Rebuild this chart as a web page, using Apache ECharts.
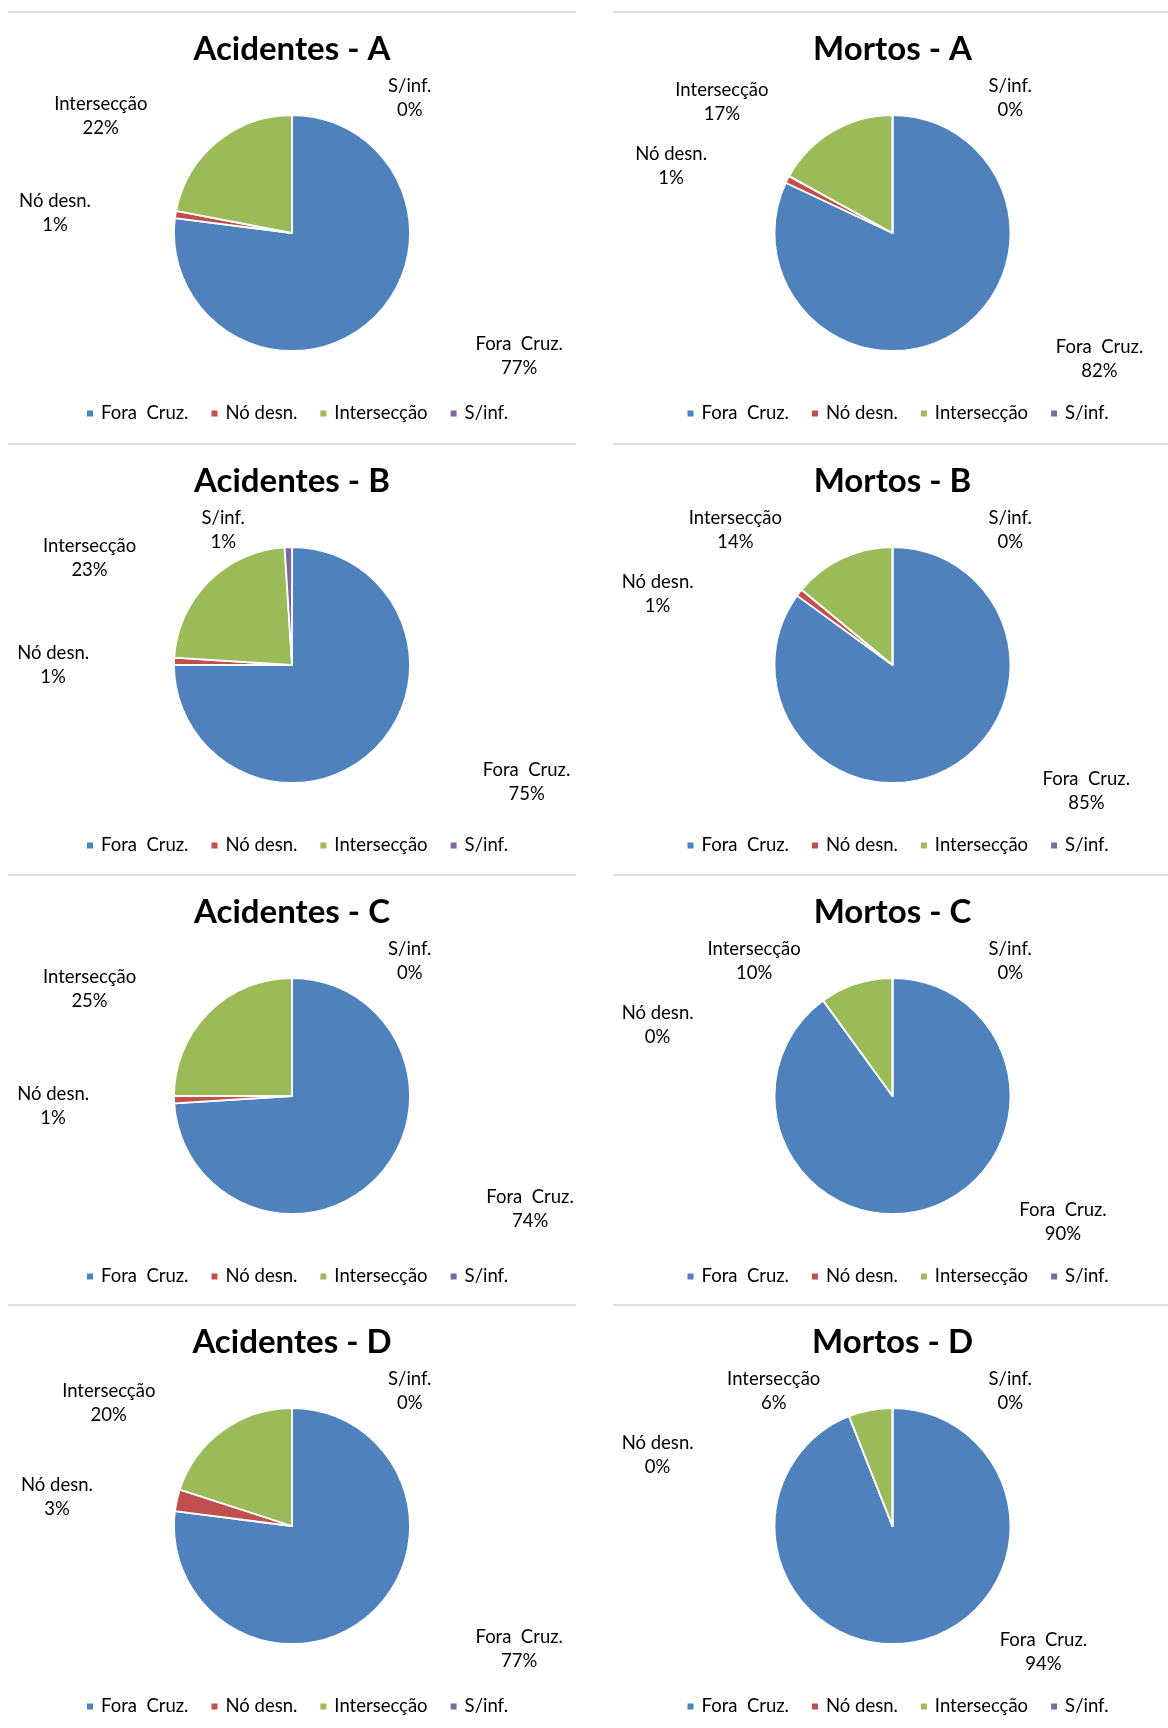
<!DOCTYPE html>
<html><head><meta charset="utf-8">
<script src="https://cdn.jsdelivr.net/npm/echarts@6/dist/echarts.min.js"></script>
<style>
html,body{margin:0;padding:0;background:#fff;width:1168px;height:1728px;overflow:hidden;position:relative}
.panel{position:absolute;height:428px}
.sep{position:absolute;height:2px;background:#dfdfdf}
</style></head><body>
<script>
// ---- data ----
const categories = ['Fora  Cruz.', 'Nó desn.', 'Intersecção', 'S/inf.'];
const chartTitles = ['Acidentes - A', 'Mortos - A', 'Acidentes - B', 'Mortos - B',
                     'Acidentes - C', 'Mortos - C', 'Acidentes - D', 'Mortos - D'];
const acidentesA = [77, 1, 22, 0];
const mortosA    = [82, 1, 17, 0];
const acidentesB = [75, 1, 23, 1];
const mortosB    = [85, 1, 14, 0];
const acidentesC = [74, 1, 25, 0];
const mortosC    = [90, 0, 10, 0];
const acidentesD = [77, 3, 20, 0];
const mortosD    = [94, 0, 6, 0];
const seriesValues = [acidentesA, mortosA, acidentesB, mortosB, acidentesC, mortosC, acidentesD, mortosD];

// ---- style ----
const colors = ['#4F81BD', '#C0504D', '#9BBB59', '#8064A2'];
const FONT = 'Lato';
const LABEL_SIZE = 18.5, LINE_H = 24;
const rowTops = [11, 443, 874, 1304];
const colLeft = [8, 613];
const colWidth = [568, 559];
const pieCY = 222, pieR = 118;

const ctx = document.createElement('canvas').getContext('2d');
ctx.font = LABEL_SIZE + 'px ' + FONT;
const tw = s => ctx.measureText(s).width;

function labelPositions(values, cx, cy) {
  const total = values.reduce((a, b) => a + b, 0);
  const RX = 161, RY = 158, padL = 42, padR = 77, padRTop = 96,
        yMin = -140, yMax = 121, gap = 16, pushExtra = 18, dy = 5;
  const h = LINE_H * 2;
  let acc = 0;
  const items = values.map((v, i) => {
    const a0 = acc / total * Math.PI * 2; acc += v;
    const a1 = acc / total * Math.PI * 2;
    const mid = (a0 + a1) / 2;
    const ux = Math.sin(mid), uy = -Math.cos(mid);
    const side = ux < -1e-6 ? -1 : 1;
    const pct = Math.round(v / total * 100) + '%';
    const w = Math.max(tw(categories[i]), tw(pct));
    const pad = side < 0 ? padL : (uy < 0 ? padRTop : padR);
    const raw = uy * RY;
    const y = cy + Math.min(yMax, Math.max(yMin, raw));
    const x = cx + ux * RX + side * (pad + w / 2);
    return { i, side, w, pad, raw, x, y };
  });
  [-1, 1].forEach(side => {
    const list = items.filter(d => d.side === side).sort((a, b) => a.raw - b.raw);
    for (let k = 1; k < list.length; k++) {
      const a = list[k - 1], b = list[k];
      const hOverlap = Math.abs(a.x - b.x) < (a.w + b.w) / 2;
      if (hOverlap && b.y - a.y < h + gap) {
        b.y = a.y + h + gap;
        let uy = (b.y - cy) / RY; uy = Math.max(-1, Math.min(1, uy));
        const ux = side * Math.sqrt(1 - uy * uy);
        b.x = cx + ux * (RX + pushExtra) + side * (b.pad + b.w / 2);
      }
    }
  });
  const out = [];
  items.forEach(d => { d.y += dy; out[d.i] = d; });
  return out;
}

seriesValues.forEach((values, idx) => {
  const col = idx % 2, row = Math.floor(idx / 2);
  const W = colWidth[col];
  const sep = document.createElement('div');
  sep.className = 'sep';
  sep.style.left = colLeft[col] + 'px';
  sep.style.top = rowTops[row] + 'px';
  sep.style.width = (col ? 1168 - colLeft[col] : 568) + 'px';
  document.body.appendChild(sep);

  const div = document.createElement('div');
  div.className = 'panel';
  div.style.left = colLeft[col] + 'px';
  div.style.top = rowTops[row] + 'px';
  div.style.width = W + 'px';
  document.body.appendChild(div);

  const cx = W / 2;
  const pos = labelPositions(values, cx, pieCY);
  const chart = echarts.init(div, null, { renderer: 'canvas' });
  chart.setOption({
    animation: false,
    color: colors,
    title: {
      text: chartTitles[idx], left: 'center', top: 22, padding: 0,
      textStyle: { fontFamily: FONT, fontWeight: 'bold', fontSize: 33, color: '#000' }
    },
    legend: {
      data: categories, left: cx - 207, top: 393, padding: 0,
      icon: 'rect', itemWidth: 8, itemHeight: 8, itemGap: 21,
      textStyle: { fontFamily: FONT, fontSize: LABEL_SIZE, color: '#000', padding: [0, 0, 0, 2] },
      selectedMode: false
    },
    series: [{
      type: 'pie', center: [cx, pieCY], radius: pieR, startAngle: 90, clockwise: true,
      avoidLabelOverlap: false, silent: true,
      itemStyle: { borderColor: '#fff', borderWidth: 1.8 },
      label: {
        show: true, position: 'outside', fontFamily: FONT, fontSize: LABEL_SIZE,
        lineHeight: LINE_H, color: '#000',
        formatter: p => p.name + '\n' + Math.round(p.percent) + '%'
      },
      labelLine: { show: false },
      labelLayout: p => ({ x: pos[p.dataIndex].x, y: pos[p.dataIndex].y, align: 'center', verticalAlign: 'middle' }),
      emphasis: { disabled: true },
      data: categories.map((c, i) => ({ name: c, value: values[i] }))
    }]
  });
});
</script>
</body></html>
